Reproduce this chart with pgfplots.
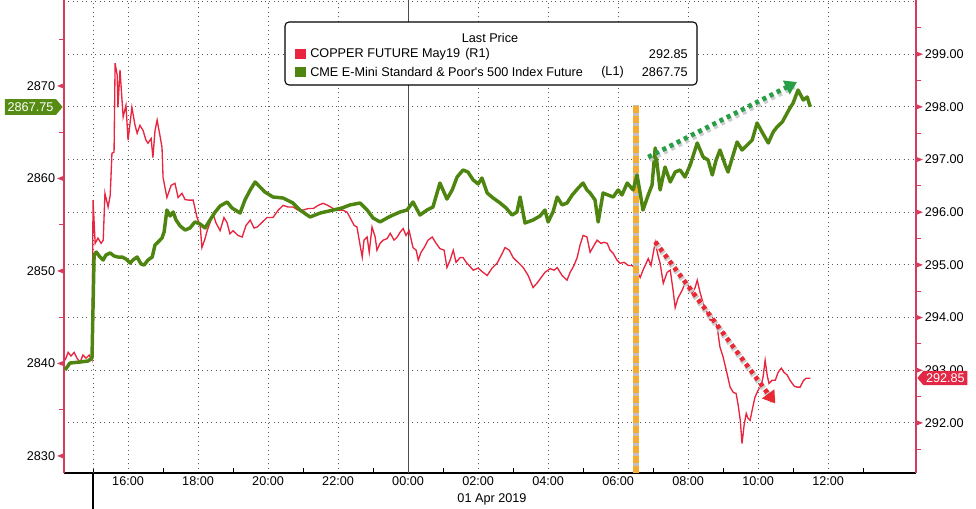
\documentclass[border=0pt]{standalone}
\usepackage{pgfplots}
\pgfplotsset{compat=1.18}
\usepackage{fontspec}
\setmainfont{Liberation Sans}
\usetikzlibrary{arrows.meta,shapes.symbols}
\definecolor{cured}{RGB}{232,36,62}
\definecolor{spgreen}{RGB}{78,132,16}
\definecolor{axred}{RGB}{214,58,92}
\definecolor{tagred}{RGB}{226,40,68}
\definecolor{taggreen}{RGB}{86,140,20}
\definecolor{arrgreen}{RGB}{40,158,70}
\definecolor{arrred}{RGB}{232,40,50}
\definecolor{orng}{RGB}{246,172,48}
\definecolor{gridc}{RGB}{90,90,90}
\newcommand\ltri{\tikz[baseline={(0pt,-3.3pt)}]\fill[axred] (0pt,0pt)--(5pt,2pt)--(5pt,-2pt)--cycle;}
\newcommand\rtri{\tikz[baseline={(0pt,-3.3pt)}]\fill[axred] (5pt,0pt)--(0pt,2pt)--(0pt,-2pt)--cycle;}
\pgfplotsset{/pgf/number format/assume math mode=true}
\begin{document}
\begin{tikzpicture}[font=\fontsize{9.5}{11}\selectfont]
% ---------- right axis: copper ----------
\begin{axis}[
  set layers,
  at={(48pt,27pt)}, anchor=south west,
  scale only axis, width=639pt, height=354.75pt,
  xmin=14.17, xmax=38.51, ymin=291.05, ymax=300.03,
  axis x line*=bottom, axis y line*=right,
  xtick={16,18,...,36},
  xticklabels={16:00,18:00,20:00,22:00,00:00,02:00,04:00,06:00,08:00,10:00,12:00},
  minor xtick={15,17,...,37},
  ytick={292,...,299},
  minor ytick={291.5,292.5,...,299.5},
  extra y ticks={300}, extra y tick labels={},
  yticklabel={\rtri\hspace{1.5pt}\pgfmathprintnumber[fixed,fixed zerofill,precision=2]{\tick}},
  yticklabel style={inner xsep=0pt, anchor=west, font=\fontsize{9.5}{11}\selectfont},
  xticklabel style={font=\fontsize{9.5}{11}\selectfont, yshift=1pt},
  xmajorgrids, ymajorgrids,
  grid style={gridc, line width=0.7pt, dash pattern=on 0.75pt off 2.6pt},
  major tick length=0pt, minor tick length=4pt,
  xtick align=inside, ytick align=outside,
  minor x tick style={black, line width=0.75pt},
  minor y tick style={axred, line width=0.75pt},
  x axis line style={black, line width=0.9pt},
  y axis line style={axred, line width=0.9pt},
  clip=true,
]
\addplot[gridc, line width=0.7pt, dash pattern=on 0.75pt off 2.6pt, forget plot] coordinates {(15,291.05) (15,300.03)};
\addplot[black!70, line width=0.8pt, forget plot] coordinates {(24,291.05) (24,300.03)};
\addplot[cured, line width=1pt] coordinates {
(14.20,293.19)(14.29,293.34)(14.37,293.27)(14.46,293.34)(14.54,293.23)(14.63,293.15)(14.71,293.29)(14.80,293.23)(14.89,293.29)(14.97,293.19)(15.00,296.23)(15.06,295.41)(15.14,295.51)(15.23,295.41)(15.29,295.47)(15.34,296.36)(15.43,296.10)(15.49,296.32)(15.54,297.12)(15.60,297.14)(15.63,298.83)(15.69,298.60)(15.71,297.99)(15.77,298.70)(15.86,297.81)(15.94,298.03)(16.00,297.37)(16.11,297.99)(16.20,297.65)(16.26,297.50)(16.34,297.65)(16.43,297.55)(16.51,297.37)(16.57,297.31)(16.66,297.40)(16.71,297.04)(16.77,297.55)(16.83,297.75)(16.91,297.46)(16.97,297.23)(17.00,296.66)(17.11,296.28)(17.23,296.51)(17.34,296.55)(17.43,296.28)(17.54,296.36)(17.63,296.24)(17.74,296.23)(17.86,296.23)(17.97,295.90)(18.06,295.75)(18.11,295.33)(18.20,295.50)(18.26,295.65)(18.34,295.80)(18.43,295.97)(18.51,295.80)(18.63,295.65)(18.74,295.90)(18.83,295.80)(18.91,295.59)(19.00,295.65)(19.14,295.56)(19.26,295.53)(19.37,295.75)(19.49,295.85)(19.60,295.70)(19.69,295.72)(19.83,295.81)(19.97,295.90)(20.14,295.90)(20.29,296.04)(20.43,296.13)(20.57,296.10)(20.71,296.10)(20.86,296.04)(21.00,296.04)(21.14,296.07)(21.29,296.07)(21.43,296.13)(21.57,296.17)(21.71,296.13)(21.86,296.07)(22.00,296.04)(22.14,296.04)(22.26,296.00)(22.34,295.90)(22.46,295.75)(22.54,295.72)(22.63,295.37)(22.69,295.15)(22.74,295.47)(22.83,295.53)(22.89,295.24)(22.97,295.72)(23.06,295.53)(23.11,295.28)(23.20,295.41)(23.29,295.47)(23.40,295.50)(23.49,295.60)(23.60,295.47)(23.69,295.53)(23.77,295.62)(23.86,295.69)(23.94,295.56)(24.03,295.65)(24.14,295.33)(24.23,295.28)(24.29,295.09)(24.37,295.24)(24.46,295.33)(24.57,295.47)(24.69,295.53)(24.80,295.41)(24.91,295.31)(25.03,295.28)(25.11,294.95)(25.20,295.09)(25.29,295.28)(25.37,295.05)(25.49,295.14)(25.57,295.14)(25.66,295.05)(25.77,294.97)(25.86,294.90)(26.00,294.94)(26.14,294.86)(26.26,294.80)(26.40,294.94)(26.54,295.03)(26.66,295.18)(26.77,295.33)(26.89,295.28)(27.00,295.14)(27.14,295.05)(27.29,294.95)(27.43,294.80)(27.57,294.57)(27.69,294.66)(27.80,294.76)(27.91,294.86)(28.06,294.93)(28.17,294.90)(28.26,294.95)(28.40,294.80)(28.54,294.71)(28.63,294.86)(28.74,294.99)(28.83,295.14)(28.91,295.37)(29.00,295.56)(29.11,295.53)(29.20,295.24)(29.31,295.37)(29.40,295.47)(29.51,295.41)(29.60,295.43)(29.69,295.41)(29.77,295.28)(29.86,295.22)(29.97,295.09)(30.06,295.03)(30.17,295.05)(30.29,294.99)(30.40,294.99)(30.51,294.93)(30.63,294.76)(30.71,294.90)(30.80,295.03)(30.86,295.12)(30.94,294.99)(31.06,295.43)(31.14,295.18)(31.20,295.03)(31.29,294.65)(31.40,294.86)(31.49,294.90)(31.57,294.52)(31.63,294.19)(31.71,294.37)(31.83,294.52)(31.91,294.65)(32.00,294.61)(32.11,294.46)(32.20,294.57)(32.26,294.71)(32.34,294.48)(32.43,294.27)(32.54,294.10)(32.63,293.95)(32.74,293.98)(32.83,293.82)(32.91,293.44)(33.00,293.25)(33.09,293.00)(33.20,292.68)(33.29,292.58)(33.37,292.56)(33.43,292.34)(33.49,292.05)(33.54,291.61)(33.60,291.96)(33.66,292.18)(33.71,292.09)(33.77,292.05)(33.86,292.34)(33.91,292.49)(34.00,292.62)(34.09,292.72)(34.14,292.87)(34.20,293.19)(34.26,292.90)(34.31,292.75)(34.40,292.81)(34.49,292.81)(34.57,292.96)(34.66,293.04)(34.74,292.96)(34.83,292.91)(34.91,292.81)(35.03,292.70)(35.11,292.68)(35.20,292.68)(35.29,292.80)(35.37,292.85)(35.49,292.85)};
% orange event line
\addplot[black!25, line width=5pt, forget plot] coordinates {(30.51,291.05) (30.51,298.03)};
\addplot[orng, line width=4pt, dash pattern=on 5pt off 2.5pt, forget plot] coordinates {(30.51,291.05) (30.51,298.03)};
% red trend arrow
\addplot[black!20, line width=4.5pt, dash pattern=on 3pt off 3pt, forget plot] coordinates {(31.09,295.40) (34.43,292.41)};
\addplot[arrred, line width=3.5pt, dash pattern=on 3pt off 3pt, -{Triangle[length=9pt,width=11pt]}, forget plot] coordinates {(31.06,295.44) (34.49,292.37)};
\end{axis}
% ---------- left axis: S&P ----------
\begin{axis}[
  set layers,
  at={(48pt,27pt)}, anchor=south west,
  scale only axis, width=639pt, height=354.75pt,
  xmin=14.17, xmax=38.51, ymin=2828.16, ymax=2879.3,
  axis x line=none, axis y line*=left,
  ytick={2830,2840,...,2870},
  minor ytick={2835,2845,...,2875},
  yticklabel={\pgfmathprintnumber[set thousands separator={}]{\tick}\hspace{1.5pt}\ltri},
  yticklabel style={inner xsep=0pt, anchor=east, font=\fontsize{9.5}{11}\selectfont},
  major tick length=0pt, minor tick length=4pt,
  ytick align=outside,
  minor y tick style={axred, line width=0.75pt},
  y axis line style={axred, line width=0.9pt},
  clip=true,
]
\addplot[spgreen, line width=2.6pt, line join=round] coordinates {
(14.20,2839.30)(14.34,2840.05)(14.63,2840.16)(14.86,2840.27)(14.97,2840.59)(15.03,2851.73)(15.09,2852.05)(15.20,2851.51)(15.29,2851.19)(15.37,2851.73)(15.49,2851.95)(15.60,2851.62)(15.71,2851.51)(15.83,2851.51)(15.94,2851.30)(16.06,2850.86)(16.14,2851.19)(16.26,2851.51)(16.37,2850.76)(16.46,2850.65)(16.57,2851.19)(16.69,2851.51)(16.77,2852.81)(16.86,2853.14)(16.97,2853.57)(17.03,2854.22)(17.11,2856.59)(17.20,2855.95)(17.29,2856.38)(17.37,2855.51)(17.49,2854.86)(17.63,2854.43)(17.77,2854.65)(17.91,2855.30)(18.06,2855.08)(18.20,2854.65)(18.34,2855.51)(18.49,2856.38)(18.63,2857.03)(18.83,2857.46)(18.97,2856.81)(19.20,2856.27)(19.34,2857.68)(19.49,2858.76)(19.63,2859.62)(19.77,2859.08)(19.91,2858.54)(20.14,2858.00)(20.43,2857.89)(20.71,2857.35)(20.91,2856.59)(21.20,2855.84)(21.49,2856.27)(21.86,2856.59)(22.11,2856.81)(22.34,2857.14)(22.63,2857.35)(22.83,2856.59)(23.00,2855.73)(23.20,2855.30)(23.40,2855.73)(23.57,2856.05)(23.77,2856.38)(23.97,2856.59)(24.14,2857.46)(24.34,2856.05)(24.54,2856.59)(24.71,2856.92)(24.91,2859.51)(25.11,2857.78)(25.26,2858.76)(25.40,2860.16)(25.57,2860.92)(25.71,2860.70)(25.86,2859.84)(26.00,2859.41)(26.11,2860.05)(26.26,2858.43)(26.43,2857.89)(26.63,2857.35)(26.80,2856.81)(26.97,2856.05)(27.11,2856.38)(27.20,2858.00)(27.34,2855.19)(27.57,2855.51)(27.77,2855.95)(27.91,2856.59)(28.00,2855.30)(28.14,2856.38)(28.26,2858.00)(28.40,2857.14)(28.54,2857.35)(28.69,2858.22)(28.86,2858.97)(29.00,2859.51)(29.11,2858.76)(29.20,2858.43)(29.34,2857.68)(29.43,2855.30)(29.57,2858.43)(29.71,2858.22)(29.86,2858.00)(30.00,2858.76)(30.11,2858.22)(30.26,2859.51)(30.43,2858.76)(30.54,2860.38)(30.63,2858.43)(30.71,2856.59)(30.86,2858.22)(30.97,2859.30)(31.06,2863.30)(31.20,2858.76)(31.34,2861.24)(31.49,2859.62)(31.63,2860.70)(31.77,2860.92)(31.91,2860.16)(32.06,2861.46)(32.26,2863.84)(32.43,2862.32)(32.57,2862.00)(32.69,2860.38)(32.80,2862.00)(32.91,2863.08)(33.06,2861.46)(33.14,2860.70)(33.26,2862.22)(33.40,2863.95)(33.54,2863.08)(33.66,2863.51)(33.83,2864.16)(33.97,2866.00)(34.11,2865.03)(34.29,2863.84)(34.43,2865.03)(34.54,2865.57)(34.69,2866.11)(34.83,2867.08)(34.91,2867.62)(35.00,2868.16)(35.14,2869.57)(35.29,2868.49)(35.40,2868.81)(35.49,2867.75)};
% green trend arrow
\addplot[black!20, line width=4.5pt, dash pattern=on 3pt off 3pt, forget plot] coordinates {(30.89,2862.10) (35.03,2869.98)};
\addplot[arrgreen, line width=3.5pt, dash pattern=on 3pt off 3pt, -{Triangle[length=9pt,width=11pt]}, forget plot] coordinates {(30.86,2862.32) (35.11,2870.43)};
\end{axis}
\begin{scope}[x=0.75pt,y=0.75pt]
% ---------- below-axis marks ----------
\draw[black, line width=0.9pt] (93,36) -- (93,0);
\node at (492,10) {01 Apr 2019};
% ---------- legend ----------
\draw[black, line width=0.8pt, rounded corners=3pt, fill=white] (285,424) rectangle (697,487);
\node at (490,471) {Last Price};
\fill[cured] (295,450) rectangle (306,460);
\fill[spgreen] (295,432) rectangle (306,442);
\node[anchor=west, inner sep=0pt] at (310,455) {COPPER FUTURE May19};
\node[anchor=west, inner sep=0pt] at (465,455) {(R1)};
\node[anchor=east, inner sep=0pt] at (688,455) {292.85};
\node[anchor=west, inner sep=0pt] at (310,437) {CME E-Mini Standard \& Poor\textquotesingle s 500 Index Future};
\node[anchor=west, inner sep=0pt] at (601,437) {(L1)};
\node[anchor=east, inner sep=0pt] at (688,437) {2867.75};
% ---------- value tags ----------
\node[signal, signal to=east, signal pointer angle=100, fill=taggreen, text=white, inner xsep=2pt, inner ysep=2.5pt, anchor=east] at (63,402) {2867.75};
\node[signal, signal to=west, signal pointer angle=100, fill=tagred, text=white, inner xsep=2pt, inner ysep=2pt, anchor=west] at (917,131) {292.85};
\pgfresetboundingbox
\path[use as bounding box] (0,0) rectangle (976,509);
\end{scope}
\end{tikzpicture}
\end{document}
